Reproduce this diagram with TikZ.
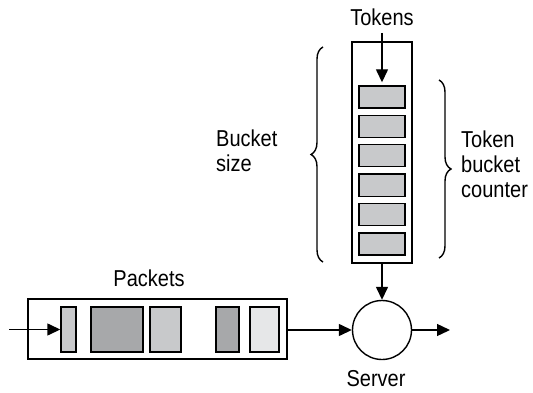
\documentclass[tikz,border=0pt]{standalone}
\usepackage{fontspec}
\setmainfont[FakeStretch=0.87]{Liberation Sans}
\usetikzlibrary{arrows.meta,decorations.pathreplacing}
\definecolor{tokgray}{RGB}{200,201,203}
\definecolor{darkpk}{RGB}{167,168,170}
\definecolor{lightpk}{RGB}{230,231,232}
\tikzset{
  frame/.style={draw=black, line width=1.4pt, minimum width=#1, inner sep=0pt},
  tokenbox/.style={draw=black, line width=1.4pt, fill=tokgray, minimum width=46pt, minimum height=22pt, inner sep=0pt},
  packet/.style={draw=black, line width=1.4pt, minimum height=45pt, minimum width=#1, inner sep=0pt},
  flow/.style={line width=1.4pt, -{Triangle[length=13pt,width=12pt]}},
  bracestyle/.style={line width=1.4pt, decorate, decoration={brace, amplitude=12pt}},
  label/.style={font=\fontsize{23}{25}\selectfont, inner sep=0pt},
}
\begin{document}
\begin{tikzpicture}[x=1pt,y=-1pt]
\useasboundingbox (0,0) rectangle (533,393);

% token bucket and its tokens
\node[frame=60pt, minimum height=221pt] (bucket) at (382,152.5) {};
\foreach \i in {0,...,5}
  \node[tokenbox] (tok\i) at (382,{97+29.4*\i}) {};

% packet queue
\node[frame=259pt, minimum height=60pt] (queue) at (157.5,329) {};
\node[packet=15pt, fill=tokgray] (p1) at (68.5,329.5) {};
\node[packet=52pt, fill=darkpk] (p2) at (117,329.5) {};
\node[packet=31pt, fill=tokgray] (p3) at (165.5,329.5) {};
\node[packet=23pt, fill=darkpk] (p4) at (227.5,329.5) {};
\node[packet=29pt, fill=lightpk] (p5) at (264.5,329.5) {};

% server
\node[circle, draw=black, line width=1.4pt, minimum size=59pt, inner sep=0pt] (server) at (382,330) {};

% labels
\node[label] (tokens) at (382,17) {Tokens};
\node[label] (packets) at (149,278) {Packets};
\node[label] (serverlbl) at (376,379) {Server};
\node[label, anchor=west, align=left] (bsize) at (216,151) {Bucket\\size};
\node[label, anchor=west, align=left] (tbc) at (461,164) {Token\\bucket\\counter};

% braces
\coordinate (lbTop) at (323,47);
\coordinate (lbBot) at (323,262);
\draw[bracestyle] (lbBot) -- (lbTop);
\coordinate (rbTop) at (439,80);
\coordinate (rbBot) at (439,258);
\draw[bracestyle] (rbTop) -- (rbBot);

% connectors
\coordinate (tokIn) at (382,33);
\coordinate (pktIn) at (9,329.5);
\coordinate (pktOut) at (450,330);
\draw[flow, shorten >=3pt] (tokIn) -- (tok0.north);
\draw[flow] (bucket.south) -- (server.north);
\draw[flow] (pktIn) -- (p1.west);
\draw[flow] (queue.east |- server.west) -- (server.west);
\draw[flow] (server.east) -- (pktOut);
\end{tikzpicture}
\end{document}
